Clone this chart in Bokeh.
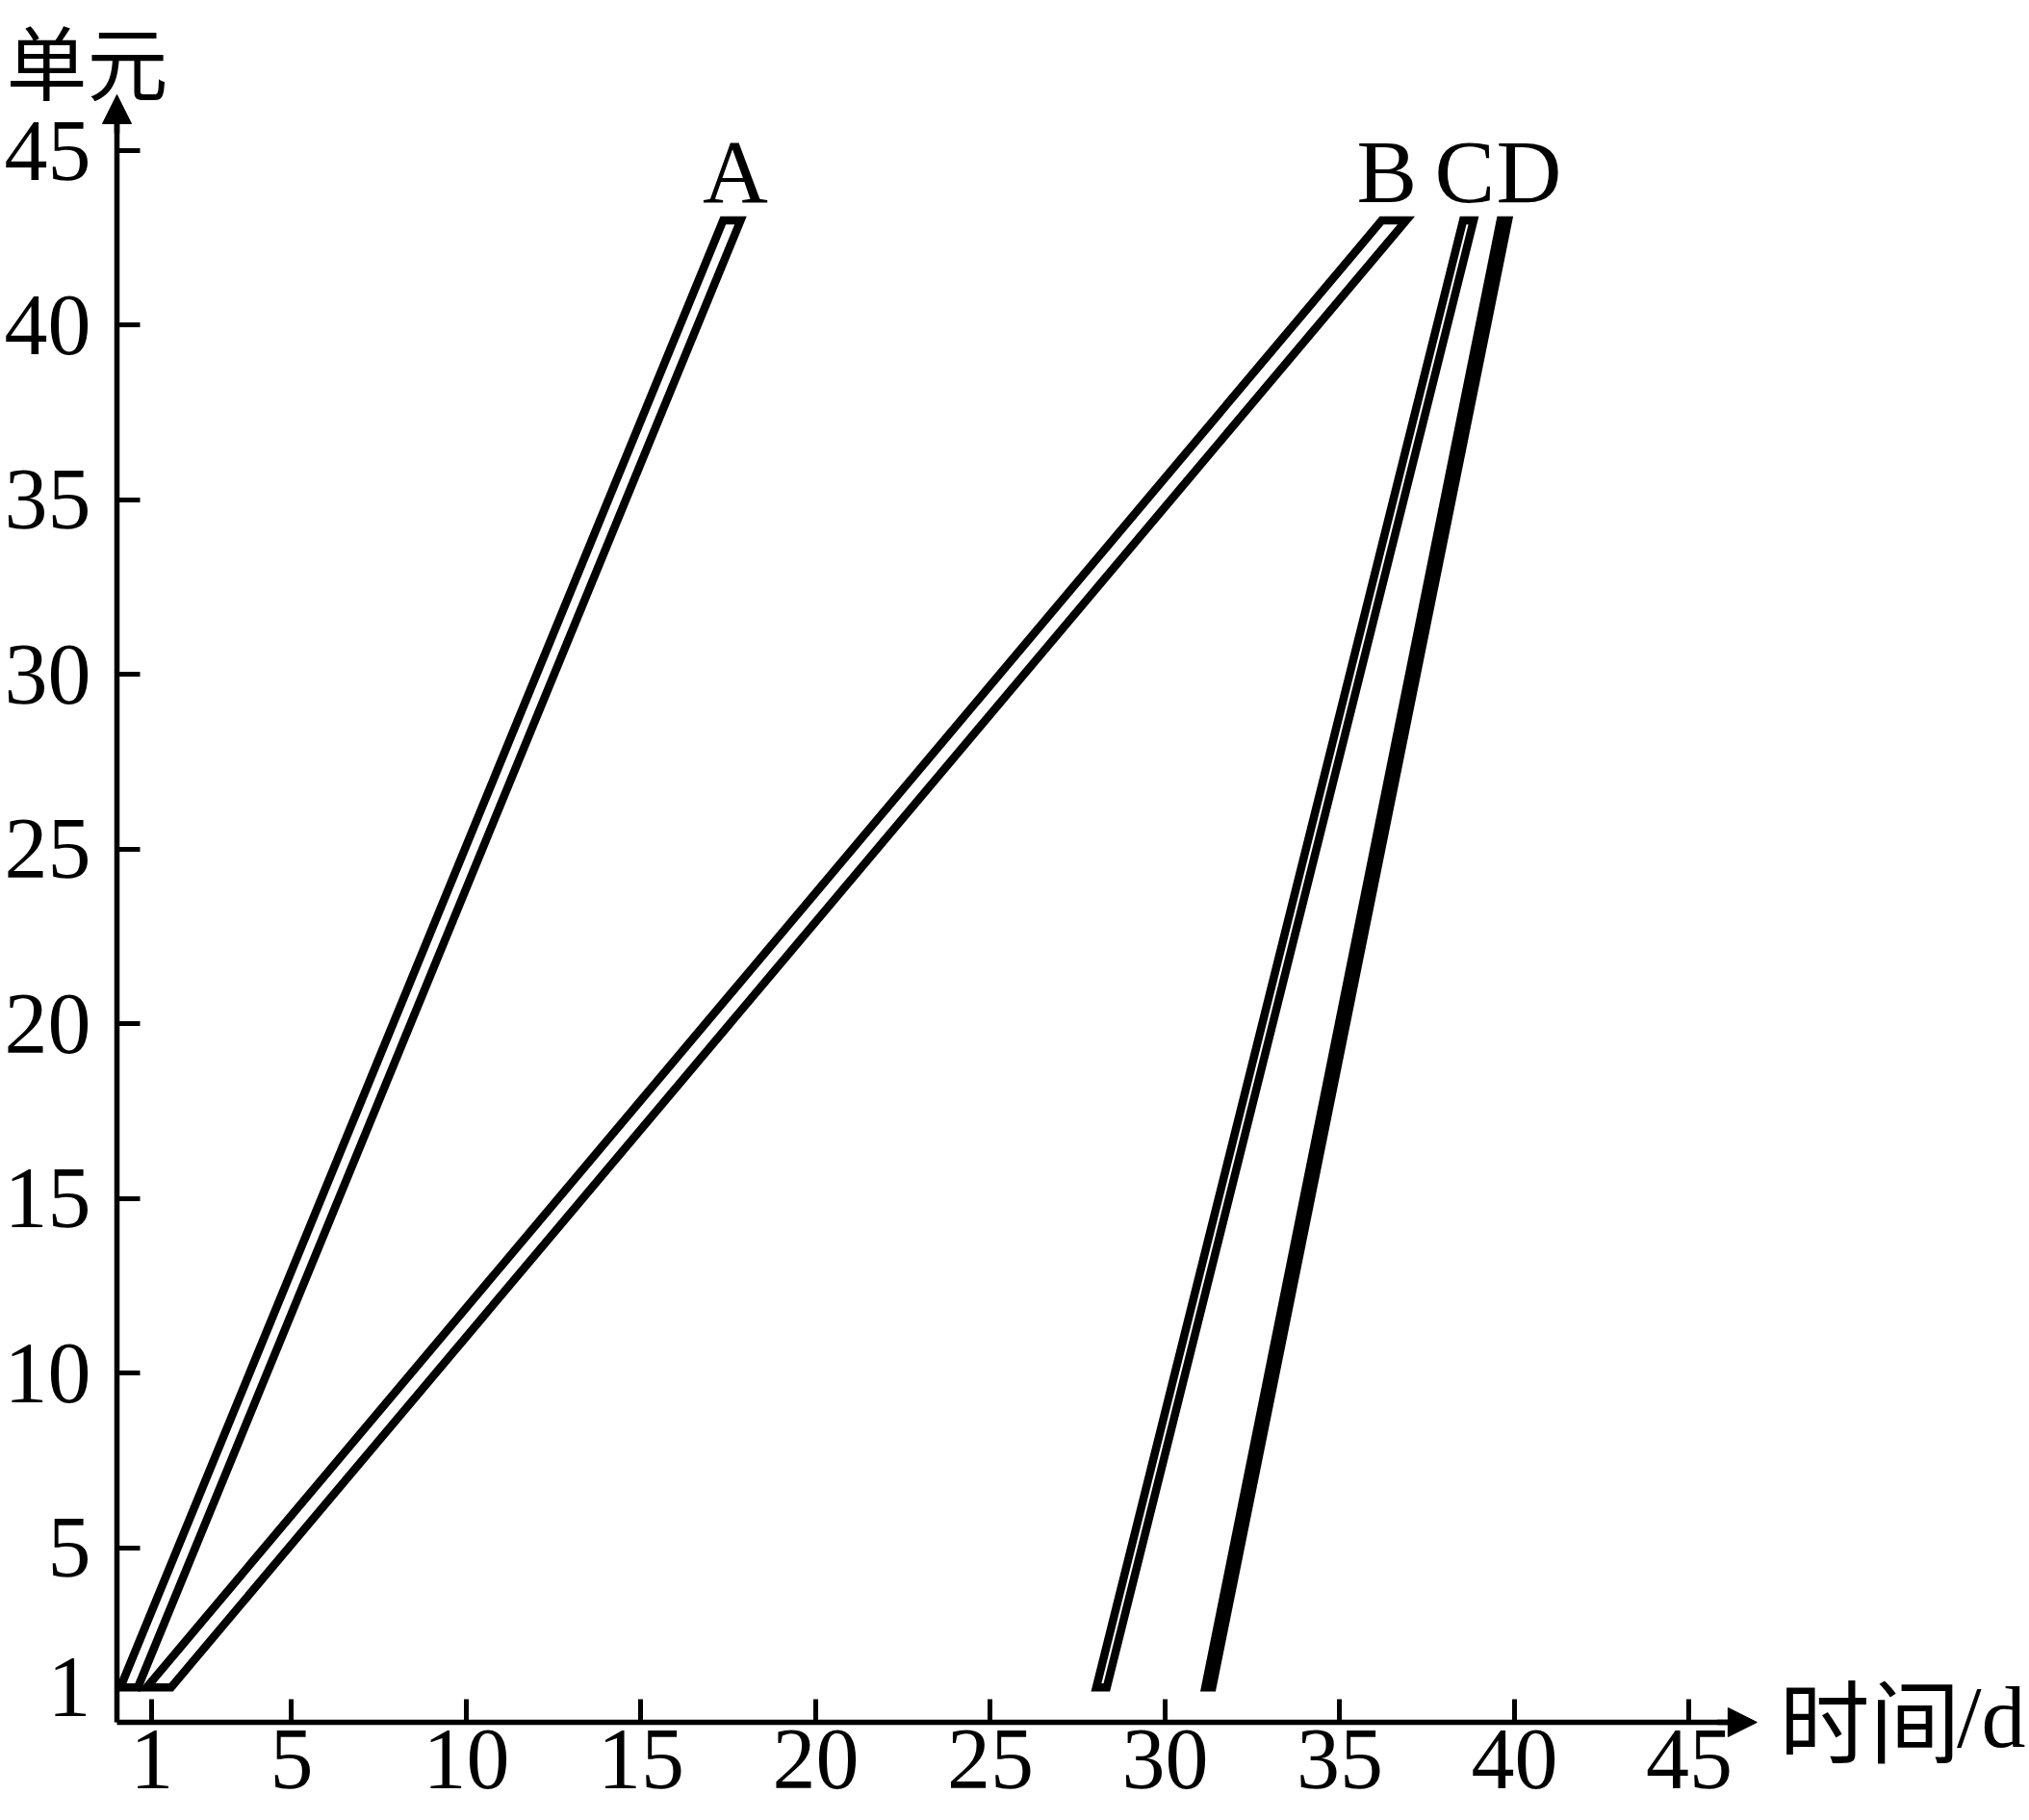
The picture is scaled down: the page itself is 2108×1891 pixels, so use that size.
from bokeh.plotting import figure
from bokeh.models import Range1d, FixedTicker, Label, Arrow, NormalHead
from bokeh.embed import file_html
from bokeh.resources import INLINE

# ---- data ----
units = [1, 43]                      # first and last unit of every band
a_start = [0.10, 17.35]
a_finish = [0.60, 17.85]
b_start = [0.85, 36.20]
b_finish = [1.55, 36.90]
c_start = [28.03, 38.53]
c_finish = [28.33, 38.83]
d_start = [31.15, 39.60]
d_finish = [31.35, 39.82]
band_names = ["A", "B", "C", "D"]
x_ticks = [1, 5, 10, 15, 20, 25, 30, 35, 40, 45]
y_ticks = [1, 5, 10, 15, 20, 25, 30, 35, 40, 45]
x_title_cjk = "时间"
x_title_unit = "/d"
y_title = "单元"

bands = {
    "A": (a_start, a_finish),
    "B": (b_start, b_finish),
    "C": (c_start, c_finish),
    "D": (d_start, d_finish),
}

SERIF = "Liberation Serif"
CJK = "Noto Sans CJK SC"

p = figure(width=2108, height=1891,
           x_range=Range1d(-3.333, 54.74), y_range=Range1d(-2.811, 49.30),
           output_backend="svg", toolbar_location=None,
           min_border_left=0, min_border_right=0,
           min_border_top=0, min_border_bottom=0)
p.outline_line_color = None
p.grid.visible = False
p.background_fill_color = "white"
p.border_fill_color = "white"

for ax, ticks, bnd in ((p.xaxis, x_ticks, (0, 46.2)), (p.yaxis, y_ticks, (0, 45.9))):
    ax.fixed_location = 0
    ax.ticker = FixedTicker(ticks=ticks)
    ax.bounds = bnd
    ax.axis_line_width = 5.5
    ax.axis_line_color = "black"
    ax.major_tick_line_width = 5
    ax.major_tick_line_color = "black"
    ax.major_tick_in = 24
    ax.major_tick_out = 0
    ax.minor_tick_line_color = None
    ax.major_label_text_font = SERIF
    ax.major_label_text_font_size = "90px"
    ax.major_label_text_color = "black"
p.xaxis.major_label_standoff = 9
p.yaxis.major_label_standoff = 27

# bands (parallelograms with a thick outline)
for name in band_names:
    s, f = bands[name]
    xs = [s[0], s[1], f[1], f[0]]
    ys = [units[0], units[1], units[1], units[0]]
    p.patch(xs, ys, fill_color="white", line_color="black",
            line_width=8.5, line_join="miter")

# band labels above the tops
nudge = {"A": 0.1, "B": -0.2, "C": -0.1, "D": 0.7}
for name in band_names:
    s, f = bands[name]
    xc = (s[1] + f[1]) / 2 + nudge[name]
    p.add_layout(Label(x=xc, y=units[1] + 1.42, text=name,
                       text_font=SERIF, text_font_size="94px",
                       text_align="center", text_baseline="middle",
                       text_color="black"))

# axis arrow heads
p.add_layout(Arrow(x_start=45.8, y_start=0, x_end=46.94, y_end=0,
                   line_width=5.5, line_color="black",
                   end=NormalHead(size=30, fill_color="black", line_color="black")))
p.add_layout(Arrow(x_start=0, y_start=45.5, x_end=0, y_end=46.6,
                   line_width=5.5, line_color="black",
                   end=NormalHead(size=30, fill_color="black", line_color="black")))

# axis titles
p.add_layout(Label(x=-3.17, y=47.63, text=y_title, text_font=CJK,
                   text_font_size="84px", text_align="left",
                   text_baseline="middle", text_color="black"))
p.add_layout(Label(x=47.58, y=0.16, text=x_title_cjk, text_font=CJK,
                   text_font_size="94px", text_align="left",
                   text_baseline="middle", text_color="black"))
p.add_layout(Label(x=52.66, y=0.16, text=x_title_unit, text_font=SERIF,
                   text_font_size="92px", text_align="left",
                   text_baseline="middle", text_color="black"))

open("out.html", "w").write(file_html(p, INLINE))
